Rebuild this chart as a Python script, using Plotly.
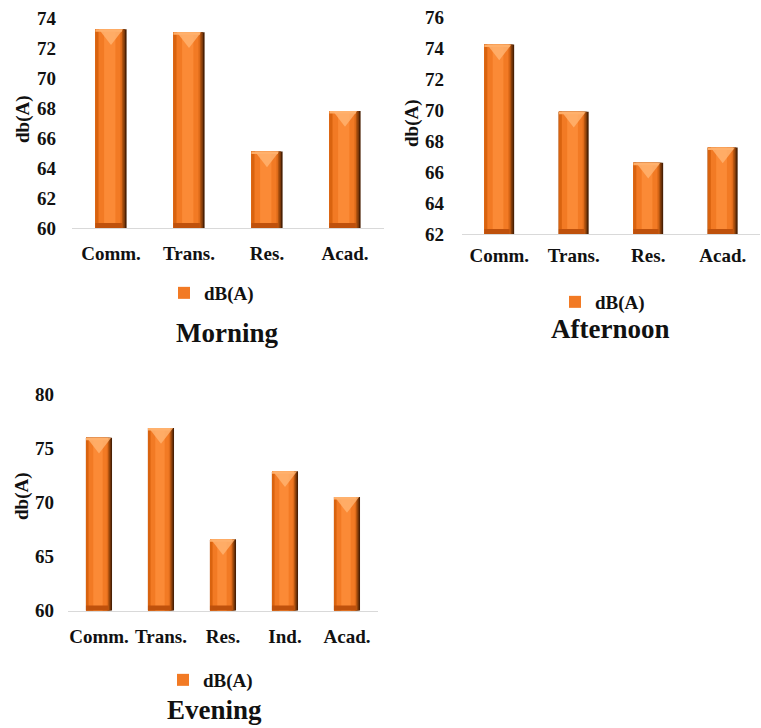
import plotly.graph_objects as go

# Noise levels, dB(A), by land-use zone and time of day
morning_cats = ["Comm.", "Trans.", "Res.", "Acad."]
morning_vals = [73.25, 73.05, 65.1, 67.8]
morning_ticks = [60, 62, 64, 66, 68, 70, 72, 74]

afternoon_cats = ["Comm.", "Trans.", "Res.", "Acad."]
afternoon_vals = [74.25, 69.9, 66.6, 67.6]
afternoon_ticks = [62, 64, 66, 68, 70, 72, 74, 76]

evening_cats = ["Comm.", "Trans.", "Res.", "Ind.", "Acad."]
evening_vals = [76.0, 76.9, 66.6, 72.9, 70.5]
evening_ticks = [60, 65, 70, 75, 80]

series_name = "dB(A)"
y_title = "db(A)"
panel_titles = ["Morning", "Afternoon", "Evening"]

W, H = 761, 728
SERIF = "Liberation Serif"
INK = "#111111"


def px_x(p):
    return p / W


def px_y(p):
    return 1 - p / H


fig = go.Figure()


def add_beveled_bars(cats, vals, ticks, top_px, bottom_px, xa, ya, legend, w):
    """Layered bars giving a bevelled look: dark shaded right side, orange body,
    darker left rim, brighter centre, a light chevron on top and a darker base."""
    half = w / 2
    layers = [
        # (width fraction, left offset fraction, colour)
        (1.00, 0.00, "#4a2004"),
        (0.95, 0.00, "#7c390a"),
        (0.90, 0.00, "#b3540f"),
        (0.85, 0.00, "#e06c1b"),
        (0.80, 0.00, "#f27a24"),
        (0.10, 0.00, "#d9630f"),
        (0.36, 0.28, "#fb8a36"),
    ]
    for i, (wf, of, col) in enumerate(layers):
        fig.add_trace(go.Bar(
            x=cats, y=vals, xaxis=xa, yaxis=ya,
            width=w * wf, offset=-half + w * of,
            marker=dict(color=col, line=dict(width=0)),
            name=series_name, legend=legend,
            showlegend=(i == 4), hoverinfo="skip",
        ))
    units_per_px = (ticks[-1] - ticks[0]) / (bottom_px - top_px)
    # darker base strip
    base_h = 5 * units_per_px
    fig.add_trace(go.Bar(
        x=cats, y=[base_h] * len(vals), base=[ticks[0]] * len(vals),
        xaxis=xa, yaxis=ya, width=w * 0.85, offset=-half,
        marker=dict(color="#bf510c", line=dict(width=0)),
        showlegend=False, hoverinfo="skip",
    ))
    # light top strip
    cap_h = 2.5 * units_per_px
    fig.add_trace(go.Bar(
        x=cats, y=[cap_h] * len(vals), base=[v - cap_h for v in vals],
        xaxis=xa, yaxis=ya, width=w * 0.85, offset=-half,
        marker=dict(color="#ffad66", line=dict(width=0)),
        showlegend=False, hoverinfo="skip",
    ))
    # chevron just under the top edge
    size = 21
    fig.add_trace(go.Scatter(
        x=cats, y=[v - (size / 4) * units_per_px for v in vals],
        xaxis=xa, yaxis=ya, mode="markers",
        marker=dict(symbol="triangle-down", size=size,
                    color="rgba(255,178,110,0.85)", line=dict(width=0)),
        showlegend=False, hoverinfo="skip",
    ))


add_beveled_bars(morning_cats, morning_vals, morning_ticks, 18, 228,
                 "x", "y", "legend", 0.40)
add_beveled_bars(afternoon_cats, afternoon_vals, afternoon_ticks, 17.5, 234,
                 "x2", "y2", "legend2", 0.40)
add_beveled_bars(evening_cats, evening_vals, evening_ticks, 394.5, 610.5,
                 "x3", "y3", "legend3", 0.42)

tick_font = dict(family=SERIF, size=19, color=INK, weight="bold")

xcommon = dict(showgrid=False, showline=True, linecolor="#d9d9d9", linewidth=1,
               ticks="", tickfont=tick_font, fixedrange=True, automargin=False,
               zeroline=False)
ycommon = dict(showgrid=False, showline=False, zeroline=False, ticks="",
               tickfont=tick_font, fixedrange=True, automargin=False)

legend_common = dict(orientation="h", xanchor="left", yanchor="middle",
                     font=dict(family=SERIF, size=19, color=INK, weight="bold"),
                     bgcolor="rgba(0,0,0,0)", itemwidth=30)

fig.update_layout(
    template="none",
    width=W, height=H,
    margin=dict(l=0, r=0, t=0, b=0, autoexpand=False),
    paper_bgcolor="white", plot_bgcolor="rgba(0,0,0,0)",
    font=dict(family=SERIF, color=INK),
    barmode="overlay",
    xaxis=dict(domain=[px_x(72), px_x(384)], anchor="y",
               ticklabelstandoff=8, **xcommon),
    yaxis=dict(domain=[px_y(228), px_y(18)], anchor="x",
               range=[morning_ticks[0], morning_ticks[-1]], tickvals=morning_ticks,
               ticklabelstandoff=15, **ycommon),
    xaxis2=dict(domain=[px_x(462), px_x(760)], anchor="y2",
                ticklabelstandoff=4, **xcommon),
    yaxis2=dict(domain=[px_y(234), px_y(17.5)], anchor="x2",
                range=[afternoon_ticks[0], afternoon_ticks[-1]], tickvals=afternoon_ticks,
                ticklabelstandoff=17, **ycommon),
    xaxis3=dict(domain=[px_x(68), px_x(378)], anchor="y3",
                ticklabelstandoff=9, **xcommon),
    yaxis3=dict(domain=[px_y(610.5), px_y(394.5)], anchor="x3",
                range=[evening_ticks[0], evening_ticks[-1]], tickvals=evening_ticks,
                ticklabelstandoff=13, **ycommon),
    legend=dict(x=px_x(164), y=px_y(293), **legend_common),
    legend2=dict(x=px_x(555), y=px_y(302), **legend_common),
    legend3=dict(x=px_x(163), y=px_y(680), **legend_common),
)

# vertical axis titles
for (tx, ty) in [(23, 119), (412, 123), (22, 496)]:
    fig.add_annotation(
        text=y_title, x=px_x(tx), y=px_y(ty), xref="paper", yref="paper",
        xanchor="center", yanchor="middle", showarrow=False, textangle=-90,
        font=dict(family=SERIF, size=19, color=INK, weight="bold"),
    )

# panel titles
title_pos = [(227, 333), (610, 329), (214, 710)]
for text, (tx, ty) in zip(panel_titles, title_pos):
    fig.add_annotation(
        text=text, x=px_x(tx), y=px_y(ty), xref="paper", yref="paper",
        xanchor="center", yanchor="middle", showarrow=False,
        font=dict(family=SERIF, size=27, color=INK, weight="bold"),
    )

fig.write_html("out.html")
